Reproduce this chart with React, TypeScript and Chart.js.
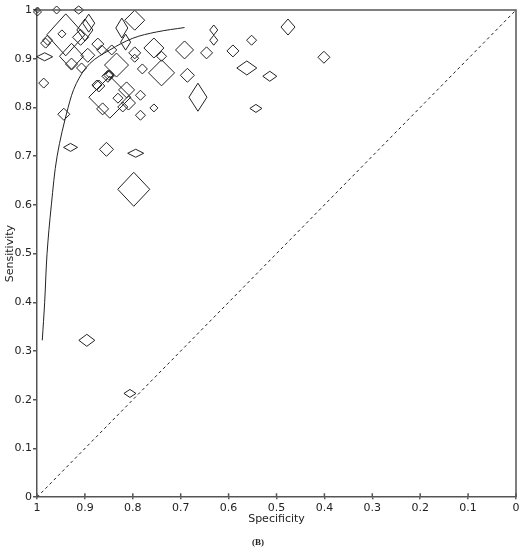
import React, { useEffect, useRef } from 'react';
import { Chart, registerables } from 'chart.js';

Chart.register(...registerables);

// Study estimates (specificity, sensitivity) and diamond half-extents (weights, px)
const specificity = [
  0.999, 0.999, 0.959, 0.913, 0.940, 0.948, 0.982, 0.978, 0.984, 0.986,
  0.944, 0.930, 0.855, 0.794, 0.798, 0.796, 0.823, 0.815, 0.892, 0.900,
  0.909, 0.873, 0.928, 0.928, 0.907, 0.894, 0.844, 0.865, 0.834, 0.850,
  0.848, 0.852, 0.796, 0.796, 0.780, 0.756, 0.740, 0.740, 0.871, 0.848,
  0.863, 0.831, 0.813, 0.809, 0.821, 0.784, 0.784, 0.756, 0.692, 0.686,
  0.664, 0.646, 0.631, 0.631, 0.591, 0.562, 0.552, 0.543, 0.514, 0.476,
  0.401, 0.896, 0.806, 0.875,
];
const sensitivity = [
  1.000, 0.996, 1.000, 1.000, 0.949, 0.951, 0.932, 0.938, 0.904, 0.850,
  0.786, 0.718, 0.714, 0.706, 0.632, 0.979, 0.963, 0.934, 0.973, 0.959,
  0.944, 0.930, 0.905, 0.889, 0.881, 0.907, 0.918, 0.918, 0.887, 0.866,
  0.868, 0.864, 0.912, 0.901, 0.879, 0.922, 0.905, 0.871, 0.844, 0.821,
  0.797, 0.819, 0.836, 0.809, 0.801, 0.825, 0.784, 0.799, 0.918, 0.866,
  0.821, 0.912, 0.959, 0.938, 0.916, 0.881, 0.938, 0.798, 0.864, 0.965,
  0.903, 0.322, 0.213, 0.846,
];
const halfWidth = [
  3, 4, 4, 5, 19, 4, 5, 5, 8, 5,
  6, 7, 7, 8, 16, 10, 6, 5, 6, 8,
  8, 6, 12, 6, 5, 7, 5, 5, 12, 5,
  4, 6, 6, 4, 5, 10, 5, 13, 6, 21,
  6, 5, 8, 7, 5, 5, 5, 4, 9, 7,
  9, 6, 4, 4, 6, 10, 5, 6, 7, 7,
  6, 8, 6, 5,
];
const halfHeight = [
  3, 4, 4, 4, 21, 4, 5, 5, 4, 5,
  6, 4, 7, 4, 17, 10, 10, 8, 9, 11,
  8, 6, 13, 6, 5, 7, 5, 5, 12, 5,
  4, 6, 6, 4, 5, 10, 5, 13, 6, 21,
  6, 5, 8, 7, 5, 5, 5, 4, 9, 7,
  14, 6, 5, 5, 6, 7, 5, 4, 5, 8,
  6, 6, 4, 5,
];

// Summary ROC curve
const curveSpec = [0.989, 0.984, 0.979, 0.970, 0.958, 0.935, 0.918, 0.890, 0.848, 0.800, 0.750, 0.692];
const curveSens = [0.322, 0.400, 0.500, 0.600, 0.700, 0.800, 0.849, 0.890, 0.918, 0.942, 0.955, 0.964];

// Chance line
const chanceSpec = [1, 0];
const chanceSens = [0, 1];

const AXIS_COLOR = '#555';
const INK = '#222';
const FONT = 'DejaVu Sans';

const fmt = (v: any) => {
  const n = Number(Number(v).toFixed(1));
  return String(n);
};

export default function App() {
  const ref = useRef<HTMLCanvasElement>(null);

  useEffect(() => {
    document.body.style.margin = '0';
    const canvas = ref.current;
    if (!canvas) return;

    const diamondPlugin = {
      id: 'diamonds',
      afterDatasetsDraw(chart: any) {
        const meta = chart.getDatasetMeta(0);
        const ctx = chart.ctx;
        ctx.save();
        ctx.strokeStyle = INK;
        ctx.lineWidth = 1;
        meta.data.forEach((el: any, i: number) => {
          const w = halfWidth[i];
          const h = halfHeight[i];
          ctx.beginPath();
          ctx.moveTo(el.x, el.y - h);
          ctx.lineTo(el.x + w, el.y);
          ctx.lineTo(el.x, el.y + h);
          ctx.lineTo(el.x - w, el.y);
          ctx.closePath();
          ctx.stroke();
        });
        ctx.restore();
      },
    };

    const framePlugin = {
      id: 'frame',
      afterDatasetsDraw(chart: any) {
        const { left, right, top, bottom } = chart.chartArea;
        const ctx = chart.ctx;
        ctx.save();
        ctx.strokeStyle = AXIS_COLOR;
        ctx.lineWidth = 1.5;
        ctx.beginPath();
        ctx.moveTo(left, top);
        ctx.lineTo(right, top);
        ctx.lineTo(right, bottom);
        ctx.stroke();
        // inward part of the x tick marks
        const xs = chart.scales.x;
        ctx.beginPath();
        xs.ticks.forEach((t: any) => {
          const px = xs.getPixelForValue(t.value);
          ctx.moveTo(px, bottom);
          ctx.lineTo(px, bottom - 4);
        });
        ctx.stroke();
        ctx.restore();
      },
    };

    const chart = new Chart(canvas, {
      type: 'scatter',
      data: {
        datasets: [
          {
            data: specificity.map((s, i) => ({ x: s, y: sensitivity[i] })),
            pointRadius: 0,
            pointHoverRadius: 0,
            showLine: false,
          },
          {
            data: curveSpec.map((s, i) => ({ x: s, y: curveSens[i] })),
            showLine: true,
            pointRadius: 0,
            borderColor: INK,
            borderWidth: 1,
            tension: 0.35,
          },
          {
            data: chanceSpec.map((s, i) => ({ x: s, y: chanceSens[i] })),
            showLine: true,
            pointRadius: 0,
            borderColor: INK,
            borderWidth: 1,
            borderDash: [3, 3],
          },
        ],
      } as any,
      options: {
        responsive: false,
        animation: false,
        layout: { padding: { top: 10, right: 15, left: 0, bottom: 0 } },
        plugins: {
          legend: { display: false },
          tooltip: { enabled: false },
          title: {
            display: true,
            position: 'bottom',
            text: '(B)',
            color: INK,
            font: { family: 'Liberation Serif', size: 9, weight: 'bold' },
            padding: { top: 11, bottom: 2 },
          },
        },
        scales: {
          x: {
            type: 'linear',
            min: 0,
            max: 1,
            reverse: true,
            afterFit: (s: any) => {
              s.height = 29;
            },
            ticks: {
              stepSize: 0.1,
              color: INK,
              padding: 2,
              font: { family: FONT, size: 11 },
              callback: fmt,
            },
            grid: {
              drawOnChartArea: false,
              drawTicks: true,
              tickLength: 2,
              color: AXIS_COLOR,
              lineWidth: 1.5,
            },
            border: { display: true, color: AXIS_COLOR, width: 1.5 },
            title: {
              display: true,
              text: 'Specificity',
              color: INK,
              font: { family: FONT, size: 11 },
              padding: 0,
            },
          },
          y: {
            type: 'linear',
            min: 0,
            max: 1,
            afterFit: (s: any) => {
              s.width = 37;
            },
            ticks: {
              stepSize: 0.1,
              color: INK,
              padding: 1,
              font: { family: FONT, size: 11 },
              callback: fmt,
            },
            grid: {
              drawOnChartArea: false,
              drawTicks: true,
              tickLength: 4,
              color: AXIS_COLOR,
              lineWidth: 1.5,
            },
            border: { display: true, color: AXIS_COLOR, width: 1.5 },
            title: {
              display: true,
              text: 'Sensitivity',
              color: INK,
              font: { family: FONT, size: 11 },
              padding: { top: 4, bottom: 0 },
            },
          },
        },
      } as any,
      plugins: [diamondPlugin, framePlugin],
    });

    return () => chart.destroy();
  }, []);

  return <canvas ref={ref} width={531} height={550} style={{ display: 'block' }} />;
}
